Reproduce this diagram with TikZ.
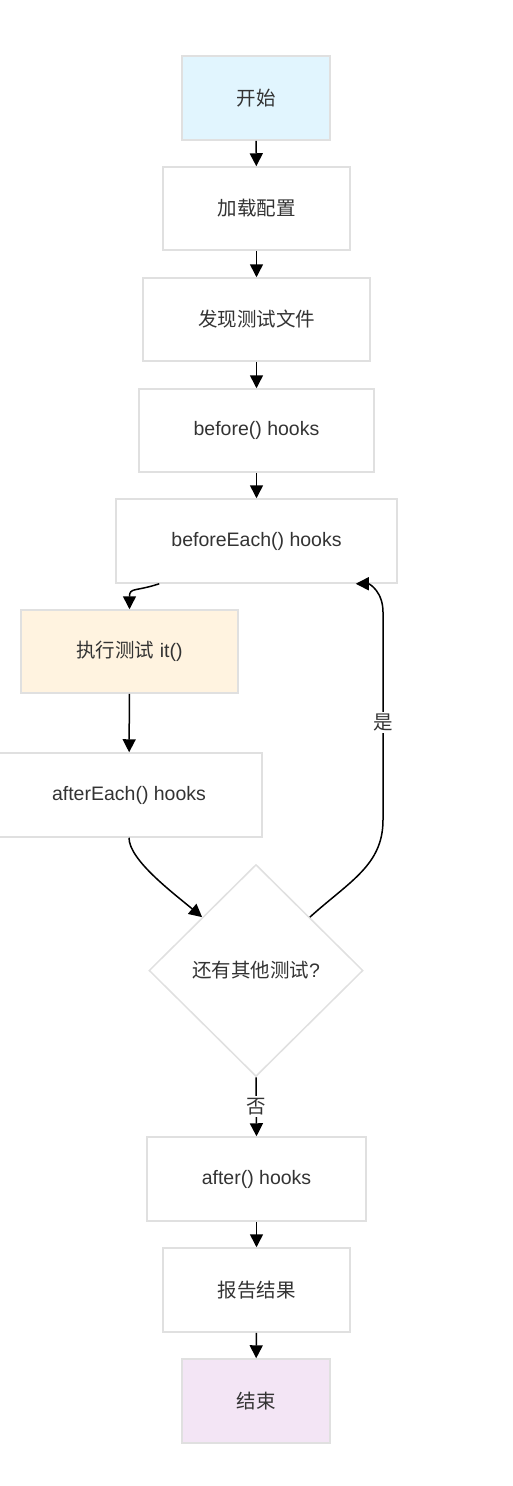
\documentclass[tikz,border=0pt]{standalone}
\usepackage{fontspec}
\setmainfont{Liberation Sans}
\newfontfamily\cjk{Noto Sans CJK SC}
\usetikzlibrary{arrows.meta,shapes.geometric,calc}
\definecolor{bordc}{HTML}{E0E0E0}
\definecolor{txtc}{HTML}{333333}
\definecolor{startc}{HTML}{E1F5FE}
\definecolor{runc}{HTML}{FFF3E0}
\definecolor{endc}{HTML}{F3E5F5}
\tikzset{
  stepbox/.style={draw=bordc, line width=1.5pt, fill=white, rectangle, inner sep=0pt,
    text=txtc, font=\fontsize{19.5pt}{22pt}\selectfont},
  decbox/.style={draw=bordc, line width=1.5pt, fill=white, diamond, inner sep=0pt,
    minimum width=214pt, minimum height=212pt, text=txtc, font=\fontsize{19.5pt}{22pt}\selectfont},
  conn/.style={draw=black, line width=1.5pt, -{Triangle[length=13pt,width=13pt]}},
  elabel/.style={fill=white, inner sep=2pt, text=txtc, font=\fontsize{19.5pt}{22pt}\selectfont}
}
\begin{document}
\begin{tikzpicture}[x=1pt,y=-1pt]
\useasboundingbox (0,0) rectangle (512,1486);
\node[stepbox, fill=startc, minimum width=148pt, minimum height=84pt] (s) at (256,98) {\cjk 开始};
\node[stepbox, minimum width=187pt, minimum height=83pt] (cfg) at (256.5,208.5) {\cjk 加载配置};
\node[stepbox, minimum width=227pt, minimum height=83pt] (disc) at (256.5,319.5) {\cjk 发现测试文件};
\node[stepbox, minimum width=235pt, minimum height=83pt] (bef) at (256.5,430.5) {before() hooks};
\node[stepbox, minimum width=281pt, minimum height=84pt] (be) at (256.5,541) {beforeEach() hooks};
\node[stepbox, fill=runc, minimum width=217pt, minimum height=83pt] (it) at (129.5,651.5) {{\cjk 执行测试} it()};
\node[stepbox, minimum width=266pt, minimum height=84pt] (ae) at (129,795) {afterEach() hooks};
\node[decbox] (d) at (256,970.5) {{\cjk 还有其他测试}?};
\node[stepbox, minimum width=219pt, minimum height=84pt] (aft) at (256.5,1179) {after() hooks};
\node[stepbox, minimum width=187pt, minimum height=84pt] (rep) at (256.5,1290) {\cjk 报告结果};
\node[stepbox, fill=endc, minimum width=148pt, minimum height=84pt] (e) at (256,1401) {\cjk 结束};

\draw[conn] (s) -- (cfg);
\draw[conn] (cfg) -- (disc);
\draw[conn] (disc) -- (bef);
\draw[conn] (bef) -- (be);
\draw[conn] ([xshift=44pt]be.south west) .. controls +(-24,8) and +(0,-22) .. (it.north);
\draw[conn] (it) -- (ae);
\draw[conn] (ae.south) .. controls +(0,22) and +(-30,-25) .. (d.north west);
\draw[conn] (d.north east) .. controls +(40,-36) and +(0,45) .. (383,820)
  -- node[elabel, pos=0.47] (yes) {\cjk 是} (383,612)
  .. controls +(0,-20) and +(14,0) .. ([xshift=-42pt]be.south east);
\draw[conn] (d.south) -- node[elabel, pos=0.5] (no) {\cjk 否} (aft.north);
\draw[conn] (aft) -- (rep);
\draw[conn] (rep) -- (e);
\end{tikzpicture}
\end{document}
